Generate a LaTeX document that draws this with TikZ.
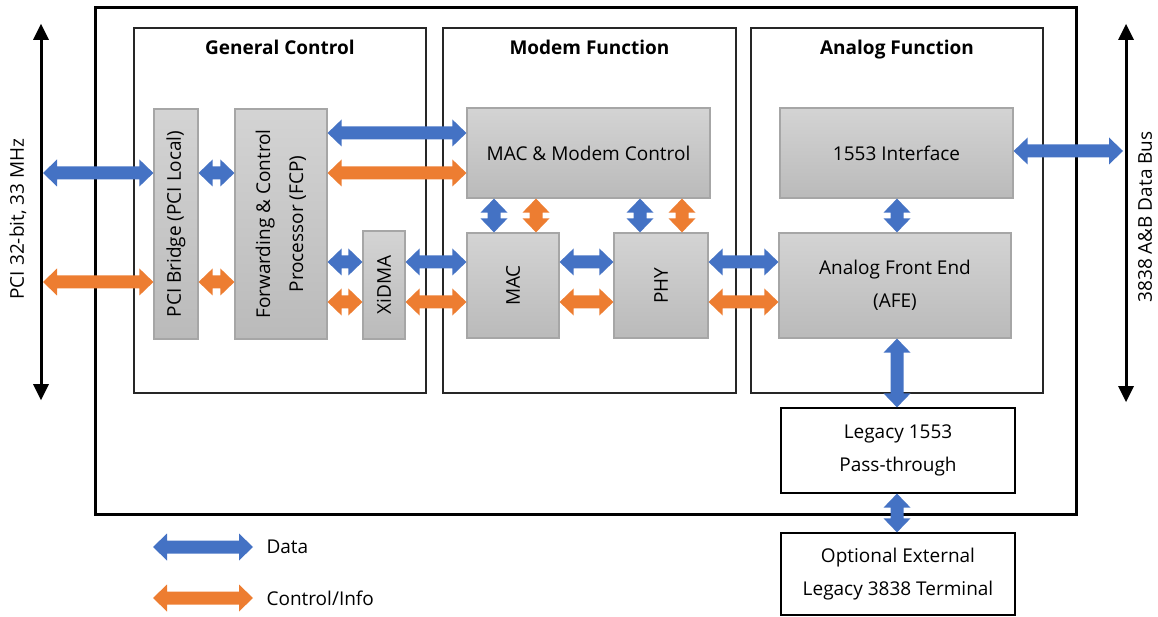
\documentclass[tikz,border=0pt]{standalone}
\usepackage{fontspec}
\setmainfont{Open Sans}
\usetikzlibrary{arrows.meta,calc}
\definecolor{dblue}{HTML}{4472C4}
\definecolor{dorange}{HTML}{ED7D31}
\definecolor{bgray}{HTML}{A6A6A6}
\tikzset{
  txt/.style={font=\fontsize{19}{33}\selectfont, align=center},
  group/.style={draw=black!85, line width=1.2pt, inner sep=0pt},
  title/.style={font=\fontsize{19}{22}\selectfont\bfseries, anchor=base},
  blk/.style={txt, draw=bgray, line width=1.2pt, top color=black!17, bottom color=black!27, inner sep=0pt},
  wbox/.style={txt, draw=black, line width=1.2pt, fill=white, inner sep=0pt},
  % fat double-headed link, drawn as one outline from start to target
  fat/.style={to path={
    ($(\tikztostart)!14pt!(\tikztotarget)$) coordinate (fa)
    ($(\tikztotarget)!14pt!(\tikztostart)$) coordinate (fb)
    (\tikztostart) -- ($(fa)!13.5pt!90:(\tikztotarget)$) -- ($(fa)!6.5pt!90:(\tikztotarget)$)
    -- ($(fb)!6.5pt!-90:(\tikztostart)$) -- ($(fb)!13.5pt!-90:(\tikztostart)$) -- (\tikztotarget)
    -- ($(fb)!13.5pt!90:(\tikztostart)$) -- ($(fb)!6.5pt!90:(\tikztostart)$)
    -- ($(fa)!6.5pt!-90:(\tikztotarget)$) -- ($(fa)!13.5pt!-90:(\tikztotarget)$) -- cycle}},
  data/.style={fat, fill=dblue},
  ctrl/.style={fat, fill=dorange},
  bus/.style={line width=3pt, {Triangle[length=16pt,width=16pt,line width=0pt]}-{Triangle[length=16pt,width=16pt,line width=0pt]}},
}
\begin{document}
\begin{tikzpicture}[x=1pt, y=-1pt]
\useasboundingbox (0,0) rectangle (1158,617);
% outer board
\draw[line width=3pt] (95,8) rectangle (1076,514);
% function groups
\node[group, minimum width=292pt, minimum height=365pt] (gc) at (280,210.5) {};
\node[group, minimum width=293pt, minimum height=365pt] (mf) at (589.5,210.5) {};
\node[group, minimum width=292pt, minimum height=365pt] (af) at (897,210.5) {};
\node[title] at ([yshift=-27pt]gc.north) {General Control};
\node[title] at ([yshift=-27pt]mf.north) {Modem Function};
\node[title] at ([yshift=-27pt]af.north) {Analog Function};
% blocks
\node[blk, minimum width=44pt, minimum height=230pt] (pcib) at (176,224) {};
\node[txt, rotate=90] at (pcib) {PCI Bridge (PCI Local)};
\node[blk, minimum width=92pt, minimum height=230pt] (fcp) at (281,224) {};
\node[txt, rotate=90] at (fcp) {Forwarding \& Control\\Processor (FCP)};
\node[blk, minimum width=42pt, minimum height=108pt] (xidma) at (384,285) {};
\node[txt, rotate=90] at (xidma) {XiDMA};
\node[blk, minimum width=243pt, minimum height=90pt] (mmc) at (588.5,153) {MAC \& Modem Control};
\node[blk, minimum width=92pt, minimum height=105pt] (mac) at (513,285.5) {};
\node[txt, rotate=90] at (mac) {MAC};
\node[blk, minimum width=94pt, minimum height=105pt] (phy) at (661,285.5) {};
\node[txt, rotate=90] at (phy) {PHY};
\node[blk, minimum width=233pt, minimum height=90pt] (ifc) at (896.5,153) {1553 Interface};
\node[blk, minimum width=232pt, minimum height=105pt] (afe) at (895,285.5) {Analog Front End\\(AFE)};
\node[wbox, minimum width=234pt, minimum height=85pt] (legacy) at (898,450.5) {Legacy 1553\\Pass-through};
\node[wbox, minimum width=234pt, minimum height=82pt] (ext) at (898,574) {Optional External\\Legacy 3838 Terminal};
% buses
\coordinate (pcitop) at (41,24);
\coordinate (pcibot) at (41,400);
\coordinate (bustop) at (1126,24);
\coordinate (busbot) at (1126,402);
\draw[bus] (pcitop) -- (pcibot);
\draw[bus] (bustop) -- (busbot);
\node[txt, rotate=90] at (18,219) {PCI 32-bit, 33 MHz};
\node[txt, rotate=90] at (1145,217) {3838 A\&B Data Bus};
% rows and columns for the links
\coordinate (rowA) at (0,133);
\coordinate (rowB) at (0,173);
\coordinate (rowC) at (0,282);
\coordinate (rowD) at (0,262);
\coordinate (rowE) at (0,302);
\coordinate (rowF) at (0,151);
\coordinate (colA) at (494,0);
\coordinate (colB) at (536,0);
\coordinate (colC) at (640,0);
\coordinate (colD) at (682,0);
\coordinate (colE) at (897,0);
% links
\path[data] ([xshift=2pt]pcitop |- rowB) to (pcib.west |- rowB);
\path[ctrl] ([xshift=2pt]pcitop |- rowC) to (pcib.west |- rowC);
\path[data] (pcib.east |- rowB) to (fcp.west |- rowB);
\path[ctrl] (pcib.east |- rowC) to (fcp.west |- rowC);
\path[data] (fcp.east |- rowA) to (mmc.west |- rowA);
\path[ctrl] (fcp.east |- rowB) to (mmc.west |- rowB);
\path[data] (fcp.east |- rowD) to (xidma.west |- rowD);
\path[ctrl] (fcp.east |- rowE) to (xidma.west |- rowE);
\path[data] (xidma.east |- rowD) to (mac.west |- rowD);
\path[ctrl] (xidma.east |- rowE) to (mac.west |- rowE);
\path[data] (mac.east |- rowD) to (phy.west |- rowD);
\path[ctrl] (mac.east |- rowE) to (phy.west |- rowE);
\path[data] (phy.east |- rowD) to (afe.west |- rowD);
\path[ctrl] (phy.east |- rowE) to (afe.west |- rowE);
\path[data] (mmc.south -| colA) to (mac.north -| colA);
\path[ctrl] (mmc.south -| colB) to (mac.north -| colB);
\path[data] (mmc.south -| colC) to (phy.north -| colC);
\path[ctrl] (mmc.south -| colD) to (phy.north -| colD);
\path[data] (ifc.east |- rowF) to ([xshift=-3pt]bustop |- rowF);
\path[data] (ifc.south -| colE) to (afe.north -| colE);
\path[data] (afe.south -| colE) to (legacy.north -| colE);
\path[data] (legacy.south -| colE) to (ext.north -| colE);
% legend
\node[txt, anchor=west] (ldata) at (263,547) {Data};
\node[txt, anchor=west] (lctrl) at (263,598) {Control/Info};
\coordinate (legA) at (153,547);
\coordinate (legB) at (153,598);
\path[data] (legA) to ([xshift=-10pt]ldata.west);
\path[ctrl] (legB) to ([xshift=-10pt]lctrl.west);
\end{tikzpicture}
\end{document}
